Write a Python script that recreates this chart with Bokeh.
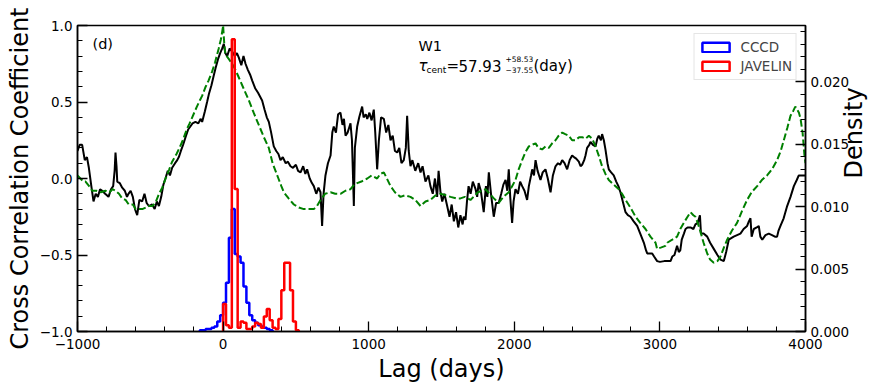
import math
from bokeh.plotting import figure
from bokeh.models import (Range1d, LinearAxis, FixedTicker, CustomJSTickFormatter,
                          Label, Legend, LegendItem)
from bokeh.embed import file_html
from bokeh.resources import INLINE

# ---------------- data ----------------
ccf_lag = [-1000, -985, -968, -950, -935, -922, -905, -890, -875, -860, -845, -830, -810, -787,
           -770, -755, -745, -739, -732, -727, -710, -693, -675, -660, -650, -635, -620, -605,
           -590, -575, -556, -540, -525, -510, -487, -470, -455, -441, -425, -410, -396, -380,
           -365, -350, -330, -315, -304, -290, -275, -258, -240, -225, -210, -190, -170, -155,
           -144, -125, -110, -98, -80, -65, -52, -35, -20, -6, 5, 15, 28, 45, 62, 80, 95, 108,
           125, 140, 154, 170, 185, 200, 220, 240, 268, 285, 300, 314, 330, 348, 365, 380, 394,
           410, 430, 445, 463, 480, 500, 515, 532, 550, 565, 577, 595, 610, 623, 640, 655, 669,
           680, 690, 703, 720, 738, 750, 760, 775, 790, 806, 820, 830, 841, 855, 865, 875, 885,
           898, 905, 921, 935, 955, 965, 980, 990, 1005, 1020, 1035, 1045, 1058, 1070, 1085,
           1104, 1120, 1135, 1150, 1165, 1180, 1196, 1210, 1225, 1241, 1255, 1264, 1275, 1287,
           1300, 1320, 1340, 1356, 1370, 1390, 1410, 1424, 1440, 1455, 1470, 1480, 1493, 1505,
           1520, 1539, 1555, 1570, 1585, 1600, 1615, 1630, 1645, 1653, 1665, 1675, 1686, 1700,
           1715, 1734, 1745, 1755, 1770, 1790, 1805, 1815, 1825, 1840, 1859, 1875, 1893, 1910,
           1925, 1940, 1952, 1962, 1972, 1985, 1995, 2008, 2025, 2040, 2054, 2070, 2088, 2100,
           2115, 2123, 2135, 2146, 2160, 2180, 2195, 2214, 2230, 2249, 2265, 2283, 2300, 2315,
           2329, 2345, 2363, 2380, 2397, 2410, 2425, 2443, 2455, 2466, 2480, 2489, 2500, 2515,
           2523, 2540, 2558, 2570, 2580, 2595, 2603, 2615, 2626, 2640, 2649, 2665, 2683, 2700,
           2715, 2729, 2745, 2764, 2780, 2798, 2820, 2844, 2865, 2890, 2905, 2913, 2930, 2947,
           2960, 2981, 3000, 3030, 3050, 3073, 3085, 3100, 3118, 3130, 3140, 3150, 3165, 3176,
           3190, 3210, 3230, 3244, 3260, 3275, 3282, 3300, 3325, 3345, 3370, 3395, 3416, 3439,
           3455, 3473, 3490, 3507, 3530, 3553, 3575, 3599, 3611, 3622, 3630, 3645, 3665, 3679,
           3690, 3703, 3725, 3748, 3770, 3790, 3805, 3815, 3828, 3850, 3874, 3897, 3920, 3940,
           3954, 3970, 4000]
ccf_r = [0.18, 0.22, 0.22, 0.12, 0.14, 0.07, -0.05, -0.15, -0.10, -0.12, -0.07, -0.08, -0.10, -0.12,
         -0.07, -0.05, 0.05, 0.17, 0.08, -0.02, -0.03, -0.06, -0.08, -0.12, -0.10, -0.08, -0.12, -0.20,
         -0.24, -0.14, -0.15, -0.10, -0.16, -0.18, -0.17, -0.20, -0.15, -0.18, -0.12, -0.04, 0.00, 0.05,
         0.02, 0.07, 0.10, 0.12, 0.14, 0.18, 0.22, 0.27, 0.32, 0.34, 0.36, 0.37, 0.36, 0.39,
         0.37, 0.44, 0.50, 0.55, 0.61, 0.67, 0.72, 0.78, 0.82, 0.85, 0.88, 0.82, 0.80, 0.85, 0.83, 0.80, 0.82, 0.79,
         0.74, 0.80, 0.75, 0.71, 0.68, 0.64, 0.59, 0.56, 0.51, 0.45, 0.40, 0.37, 0.30, 0.21, 0.18, 0.16, 0.12,
         0.14, 0.10, 0.11, 0.08, 0.07, 0.09, 0.05, 0.04, 0.08, 0.03, 0.06, 0.00, -0.03, -0.05, -0.10, -0.06, -0.09,
         -0.31, -0.10, 0.02, 0.10, 0.15, 0.30, 0.34, 0.30, 0.42, 0.43, 0.35, 0.39, 0.28, 0.30, 0.33, 0.36, 0.25,
         -0.18, 0.20, 0.34, 0.40, 0.47, 0.40, 0.42, 0.39, 0.43, 0.38, 0.45, 0.30, 0.06, 0.25, 0.40,
         0.39, 0.30, 0.35, 0.25, 0.28, 0.18, 0.17, 0.20, 0.10, 0.12, 0.20, 0.41, 0.18, 0.08,
         0.12, 0.05, 0.10, 0.04, 0.08, -0.02, 0.02, -0.05, -0.10, 0.00, -0.12, 0.05, -0.09, -0.15,
         -0.10, -0.18, -0.25, -0.17, -0.28, -0.22, -0.32, -0.24, -0.30, -0.25, -0.27, -0.15, -0.05, -0.10,
         -0.02, -0.07, -0.12, -0.03, -0.08, -0.22, -0.05, -0.12, 0.04, -0.10, -0.25, -0.16, -0.16, -0.10,
         -0.04, -0.01, -0.08, 0.06, -0.12, -0.29, -0.15, -0.07, -0.10, -0.02, -0.05, -0.08, -0.14, -0.05,
         0.02, 0.06, 0.02, 0.12, 0.05, -0.01, 0.04, 0.06, 0.00, -0.09, 0.02, 0.08, 0.10, 0.09,
         0.12, 0.10, 0.06, 0.12, 0.15, 0.14, 0.13, 0.11, 0.08, 0.09, 0.12, 0.15, 0.20, 0.22,
         0.24, 0.22, 0.21, 0.26, 0.28, 0.25, 0.29, 0.25, 0.19, 0.10, 0.06, 0.04, 0.02, -0.02,
         -0.05, -0.09, -0.15, -0.22, -0.24, -0.25, -0.28, -0.31, -0.36, -0.42, -0.47, -0.49, -0.49, -0.49,
         -0.51, -0.54, -0.545, -0.54, -0.54, -0.54, -0.51, -0.50, -0.44, -0.48, -0.47, -0.40, -0.36, -0.33,
         -0.32, -0.32, -0.33, -0.30, -0.29, -0.24, -0.36, -0.36, -0.38, -0.42, -0.46, -0.50, -0.53, -0.54,
         -0.48, -0.40, -0.39, -0.38, -0.37, -0.36, -0.33, -0.31, -0.28, -0.26, -0.38, -0.33, -0.32, -0.31,
         -0.38, -0.40, -0.37, -0.36, -0.37, -0.38, -0.38, -0.34, -0.31, -0.26, -0.18, -0.12, -0.05, -0.01,
         0.02, 0.02, 0.02]

acf_lag = [-1000, -980, -960, -945, -920, -899, -870, -840, -808, -780, -760, -739, -715, -693,
           -670, -648, -620, -600, -579, -555, -530, -510, -487, -465, -440, -418, -395, -370,
           -350, -320, -300, -281, -250, -230, -212, -180, -160, -144, -120, -100, -75, -55,
           -30, -15, -6, 0, 8, 16, 40, 62, 85, 108, 140, 177, 210, 245, 280, 314, 340, 360,
           380, 400, 417, 450, 486, 520, 554, 590, 623, 645, 669, 700, 738, 770, 806, 840, 875,
           900, 921, 950, 990, 1020, 1058, 1080, 1104, 1125, 1150, 1180, 1218, 1250, 1287, 1320,
           1356, 1390, 1424, 1460, 1493, 1530, 1562, 1600, 1630, 1660, 1699, 1720, 1750, 1780,
           1802, 1830, 1860, 1893, 1925, 1962, 1985, 2008, 2030, 2054, 2075, 2100, 2120, 2146,
           2165, 2191, 2215, 2237, 2260, 2283, 2305, 2329, 2350, 2374, 2397, 2420, 2445, 2466,
           2490, 2512, 2535, 2558, 2580, 2603, 2626, 2649, 2683, 2718, 2740, 2764, 2798, 2833,
           2865, 2901, 2935, 2970, 2981, 3010, 3038, 3050, 3085, 3118, 3140, 3164, 3190, 3210,
           3230, 3244, 3260, 3279, 3300, 3325, 3345, 3370, 3395, 3416, 3440, 3462, 3495, 3530,
           3565, 3599, 3630, 3668, 3700, 3736, 3770, 3805, 3830, 3851, 3875, 3897, 3915, 3930,
           3943, 3955, 3966, 3980, 3993, 4000]
acf_r = [0.02, 0.00, -0.02, -0.02, -0.05, -0.08, -0.08, -0.09, -0.08, -0.09, -0.07, -0.08, -0.10, -0.13,
         -0.14, -0.17, -0.17, -0.20, -0.20, -0.20, -0.19, -0.18, -0.18, -0.16, -0.10, -0.06, 0.00, 0.06,
         0.11, 0.16, 0.20, 0.24, 0.32, 0.36, 0.40, 0.47, 0.51, 0.54, 0.60, 0.64, 0.70, 0.76,
         0.85, 0.91, 0.96, 1.00, 0.88, 0.81, 0.78, 0.75, 0.71, 0.66, 0.59, 0.51, 0.43, 0.35, 0.27, 0.20, 0.10, 0.05,
         0.00, -0.05, -0.09, -0.13, -0.17, -0.19, -0.20, -0.20, -0.20, -0.18, -0.14, -0.10, -0.09, -0.10, -0.10, -0.08, -0.07,
         -0.04, -0.03, -0.02, 0.00, 0.02, 0.00, 0.03, 0.04, 0.00, -0.05, -0.09, -0.12, -0.11, -0.12, -0.14,
         -0.18, -0.15, -0.14, -0.11, -0.10, -0.11, -0.12, -0.13, -0.13, -0.12, -0.14, -0.12, -0.09, -0.08,
         -0.07, -0.10, -0.13, -0.16, -0.12, -0.09, -0.05, -0.01, 0.06, 0.12, 0.17, 0.21, 0.22, 0.23,
         0.20, 0.19, 0.21, 0.20, 0.23, 0.25, 0.28, 0.30, 0.29, 0.28, 0.25, 0.25, 0.27, 0.27,
         0.26, 0.28, 0.26, 0.21, 0.15, 0.08, 0.03, -0.01, -0.04, -0.07, -0.10, -0.14, -0.19, -0.25,
         -0.29, -0.33, -0.38, -0.42, -0.46, -0.45, -0.44, -0.42, -0.40, -0.38, -0.33, -0.29, -0.25, -0.22,
         -0.24, -0.25, -0.29, -0.35, -0.42, -0.49, -0.53, -0.55, -0.54, -0.51, -0.45, -0.40, -0.34, -0.29,
         -0.21, -0.14, -0.09, -0.05, -0.01, 0.02, 0.06, 0.12, 0.18, 0.25, 0.33, 0.41, 0.44, 0.47,
         0.45, 0.43, 0.39, 0.30, 0.15, 0.10]

bin_width = 20
cccd_left = list(range(-160, 340, 20))
cccd_density = [0.0001, 0.0001, 0.0002, 0.0002, 0.0003, 0.0004, 0.0008, 0.0013, 0.0023, 0.0039,
                0.0075, 0.0098, 0.0062, 0.0060, 0.0055, 0.0036, 0.0023, 0.0013, 0.0009, 0.0007,
                0.0005, 0.0004, 0.0003, 0.0002, 0.0001]
jav_left = list(range(0, 520, 20))
jav_density = [0.0022, 0.0005, 0.0003, 0.0234, 0.0114, 0.0003, 0.0008, 0.0007, 0.0002, 0.0002,
               0.0004, 0.0007, 0.0006, 0.0003, 0.0012, 0.0018, 0.0009, 0.0003, 0.0002, 0.0010,
               0.0033, 0.0055, 0.0055, 0.0033, 0.0008, 0.0001]

x_major = [-1000, 0, 1000, 2000, 3000, 4000]
x_minor = list(range(-1000, 4001, 200))
r_major = [-1.0, -0.5, 0.0, 0.5, 1.0]
r_minor = [round(-1 + 0.1 * i, 1) for i in range(21)]
d_major = [0.0, 0.005, 0.010, 0.015, 0.020]
d_minor = [round(0.001 * i, 3) for i in range(25)]

FONT = "DejaVu Sans"


def step_outline(lefts, dens, w):
    xs = [lefts[0]]
    ys = [0.0]
    for l, d in zip(lefts, dens):
        xs += [l, l + w]
        ys += [d, d]
    xs.append(lefts[-1] + w)
    ys.append(0.0)
    return xs, ys


p = figure(width=888, height=386, x_range=Range1d(-1000, 4000), y_range=Range1d(-1, 1),
           output_backend="svg", toolbar_location=None,
           min_border_left=77, min_border_right=83, min_border_top=25, min_border_bottom=55)
p.extra_y_ranges = {"density": Range1d(0, 0.0245)}
p.grid.visible = False
p.outline_line_color = "black"
p.outline_line_width = 1.5
p.outline_line_alpha = 1.0
p.background_fill_color = "white"
p.border_fill_color = "white"

minus_fmt = "return (tick < 0 ? '\\u2212' : '') + Math.abs(tick).toFixed(%d);"

xa = p.xaxis[0]
xa.ticker = FixedTicker(ticks=x_major, minor_ticks=x_minor)
xa.formatter = CustomJSTickFormatter(code=minus_fmt % 0)
xa.axis_label = "Lag (days)"

ya = p.yaxis[0]
ya.ticker = FixedTicker(ticks=r_major, minor_ticks=r_minor)
ya.formatter = CustomJSTickFormatter(code=minus_fmt % 1)
ya.axis_label = "Cross Correlation Coefficient"

ra = LinearAxis(y_range_name="density", axis_label="Density")
ra.ticker = FixedTicker(ticks=d_major, minor_ticks=d_minor)
ra.formatter = CustomJSTickFormatter(code=minus_fmt % 3)
p.add_layout(ra, "right")
ra.axis_label_orientation = math.pi / 2

for ax in (xa, ya, ra):
    ax.major_tick_in = 10
    ax.major_tick_out = 0
    ax.minor_tick_in = 5
    ax.minor_tick_out = 0
    ax.axis_line_width = 1.5
    ax.axis_line_color = "black"
    ax.major_tick_line_width = 1.3
    ax.minor_tick_line_width = 1.0
    ax.major_tick_line_color = "black"
    ax.minor_tick_line_color = "black"
    ax.major_label_text_font = FONT
    ax.major_label_text_font_size = "13.5px"
    ax.major_label_text_color = "black"
    ax.axis_label_text_font = FONT
    ax.axis_label_text_font_size = "24px"
    ax.axis_label_text_font_style = "normal"
    ax.axis_label_text_color = "black"
    ax.major_label_standoff = 5
    ax.axis_label_standoff = 3
xa.major_label_standoff = 7
ra.axis_label_standoff = 2

# correlation curves
p.line(ccf_lag, ccf_r, line_color="black", line_width=2.0)
p.line(acf_lag, acf_r, line_color="#008000", line_width=2.0, line_dash="7 3")

# histograms (step outlines on the density axis)
bx, by = step_outline(cccd_left, cccd_density, bin_width)
rx, ry = step_outline(jav_left, jav_density, bin_width)
p.line(bx, by, line_color="#0000ff", line_width=2.5, y_range_name="density")
p.line(rx, ry, line_color="#ff0000", line_width=2.5, y_range_name="density")

# legend proxies (hidden bar renderers, only used for the legend swatches)
q_b = p.quad(left=cccd_left, right=[l + bin_width for l in cccd_left], top=cccd_density,
             bottom=0, fill_alpha=0, line_color="#0000ff", line_width=2.5,
             y_range_name="density", visible=False)
q_r = p.quad(left=jav_left, right=[l + bin_width for l in jav_left], top=jav_density,
             bottom=0, fill_alpha=0, line_color="#ff0000", line_width=2.5,
             y_range_name="density", visible=False)
legend = Legend(items=[LegendItem(label="CCCD", renderers=[q_b]),
                       LegendItem(label="JAVELIN", renderers=[q_r])],
                location="top_right")
legend.margin = 8
legend.padding = 4
legend.spacing = 1
legend.label_height = 18
legend.glyph_height = 12
legend.glyph_width = 34
legend.label_standoff = 8
legend.label_text_font = FONT
legend.label_text_font_size = "13.5px"
legend.border_line_color = "#cccccc"
legend.border_line_width = 1
legend.background_fill_alpha = 0.8
legend.inactive_fill_alpha = 0.0
p.add_layout(legend)

# text annotations
def lab(x, y, text, size, dx=0, dy=0, style="normal"):
    p.add_layout(Label(x=x, y=y, text=text, x_offset=dx, y_offset=dy,
                       text_font=FONT, text_font_size=size, text_font_style=style,
                       text_baseline="alphabetic", text_align="left", text_color="black"))

lab(-897, 0.877, "(d)", "14.5px")
lab(1342, 0.863, "W1", "14.5px")
ty = 0.737
lab(1342, ty, "τ", "15px", dx=0, style="italic")
lab(1342, ty, "cent", "9px", dx=8, dy=-4)
lab(1342, ty, "=", "15px", dx=28)
lab(1342, ty, "57.93", "15px", dx=40)
lab(1342, ty, "+58.53", "7.5px", dx=87, dy=7)
lab(1342, ty, "\u221237.55", "7.5px", dx=87, dy=-4)
lab(1342, ty, "(day)", "15px", dx=115)

open("out.html", "w").write(file_html(p, INLINE))
